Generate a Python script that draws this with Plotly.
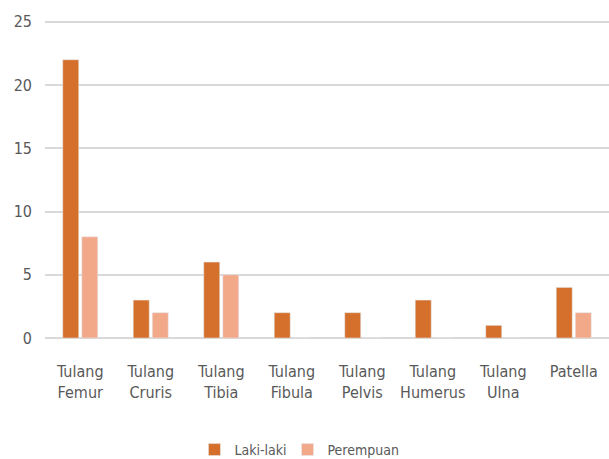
import plotly.graph_objects as go

categories = ["Tulang<br>Femur", "Tulang<br>Cruris", "Tulang<br>Tibia", "Tulang<br>Fibula",
              "Tulang<br>Pelvis", "Tulang<br>Humerus", "Tulang<br>Ulna", "Patella"]
laki = [22, 3, 6, 2, 2, 3, 1, 4]
perempuan = [8, 2, 5, 0, 0, 0, 0, 2]
y_ticks = [0, 5, 10, 15, 20, 25]

FONT = "DejaVu Sans Condensed, Liberation Sans Narrow, sans-serif"

fig = go.Figure()
fig.add_trace(go.Bar(x=categories, y=laki, name="Laki-laki", marker=dict(color="#D4702B"),
                     legend="legend"))
fig.add_trace(go.Bar(x=categories, y=perempuan, name="Perempuan", marker=dict(color="#F2A98A"),
                     legend="legend2"))

leg_common = dict(orientation="h", xanchor="left", y=-0.35, yanchor="middle",
                  font=dict(size=14, color="#595959"), itemwidth=30, bgcolor="rgba(0,0,0,0)")

fig.update_layout(
    width=609, height=459,
    margin=dict(l=45, r=0, t=18, b=121, autoexpand=False),
    plot_bgcolor="white", paper_bgcolor="white",
    barmode="group", bargap=0.46, bargroupgap=0.16,
    font=dict(family=FONT, size=15, color="#595959"),
    showlegend=True,
    legend=dict(x=0.265, **leg_common),
    legend2=dict(x=0.43, **leg_common),
    xaxis=dict(showgrid=False, showline=False, ticks="", tickfont=dict(size=16),
               ticklabelstandoff=22, automargin=False),
    yaxis=dict(range=[0, 25.3], tickvals=y_ticks, showgrid=True, gridcolor="#D9D9D9", gridwidth=1.5,
               zeroline=True, zerolinecolor="#D9D9D9", zerolinewidth=1.5,
               showline=False, ticks="", ticklen=0, tickfont=dict(size=16),
               ticklabelstandoff=12, automargin=False),
)

fig.write_html("out.html", config={"displayModeBar": False},
               post_script="document.body.style.margin='0';document.body.style.padding='0';")
